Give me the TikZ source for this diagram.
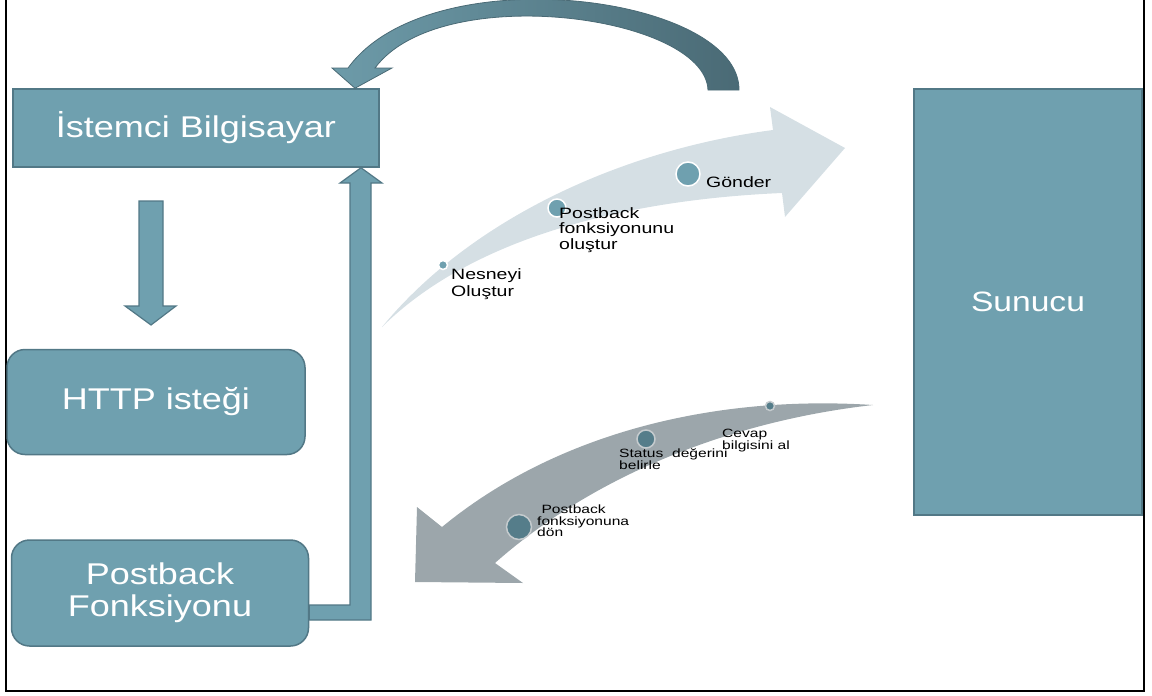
\documentclass[tikz,border=0pt]{standalone}
\usepackage{fontspec}
\newfontfamily\boxfont[FakeStretch=1.2]{Liberation Sans}
\newfontfamily\notefont[FakeStretch=1.3]{Liberation Sans}
\definecolor{boxfill}{HTML}{6FA0AF}
\definecolor{boxline}{HTML}{527886}
\definecolor{darkteal}{HTML}{4A6A75}
\definecolor{midteal}{HTML}{6D9BA9}
\definecolor{paleband}{HTML}{D5DFE4}
\definecolor{greyband}{HTML}{9CA6AB}
\definecolor{dotdark}{HTML}{557D8A}
\definecolor{dotring}{HTML}{C5CBCE}

\begin{document}
\begin{tikzpicture}[x=1pt,y=-1pt]
 \useasboundingbox (0,0) rectangle (1152,696);
 \draw[line width=2pt] (6,0) -- (6,691) -- (1144,691) -- (1144,0);

 \fill[paleband] (382,327) .. controls (470,220) and (620,150) .. (773,130) -- (770,107) -- (845,148) -- (785,217) -- (782,193) .. controls (620,200) and (470,240) .. (382,327) -- cycle;
 \fill[greyband] (873,405) .. controls (720,395) and (560,430) .. (442,527) -- (417,507) -- (415,582) -- (523,583) -- (495,563) .. controls (600,470) and (740,420) .. (873,405) -- cycle;

 \begin{scope}[every node/.style={draw=boxline, fill=boxfill, line width=1.5pt, text=white, inner sep=0pt, align=center}]
   \node (istemci) [minimum width=366pt, minimum height=78pt, font={\boxfont\fontsize{30}{33}\selectfont}] at (196,128) {İstemci Bilgisayar};
   \node (http) [rounded corners=18pt, minimum width=298pt, minimum height=105pt, font={\boxfont\fontsize{30}{33}\selectfont}] at (156,402) {HTTP isteği};
   \node (postback) [rounded corners=18pt, minimum width=297pt, minimum height=106pt, font={\boxfont\fontsize{30}{32}\selectfont}] at (160,593) {Postback\\Fonksiyonu};
   \node (sunucu) [minimum width=228pt, minimum height=426pt, font={\boxfont\fontsize{28}{32}\selectfont}] at (1028,302) {Sunucu};
 \end{scope}

 \draw[boxline, fill=boxfill, line width=1.2pt] (139,201) -- (163,201) -- (163,306) -- (176,306) -- (151,325) -- (125,306) -- (139,306) -- cycle;
 \draw[boxline, fill=boxfill, line width=1.2pt] (postback.east |- 0,605) -- (350,605) -- (350,183) -- (340,183) -- (361,0 |- istemci.south) -- (382,183) -- (371,183) -- (371,620) -- (postback.east |- 0,620) -- cycle;
 \shade[left color=midteal, right color=darkteal, draw=darkteal, line width=0.8pt] (739,90) .. controls (740,-5) and (430,-45) .. (348,68) -- (332,68) -- (355,0 |- istemci.north) -- (392,68) -- (375,68) .. controls (440,-20) and (705,15) .. (708,90) -- cycle;

 \begin{scope}[every node/.style={circle, inner sep=0pt, line width=1.5pt}]
   \node (up1) [fill=boxfill, draw=white, minimum size=9pt] at (443,265) {};
   \node (up2) [fill=boxfill, draw=white, minimum size=18pt] at (557,208) {};
   \node (up3) [fill=boxfill, draw=white, minimum size=24pt] at (688,174) {};
   \node (down1) [fill=dotdark, draw=dotring, minimum size=9pt] at (770,406) {};
   \node (down2) [fill=dotdark, draw=dotring, minimum size=18pt] at (646,439) {};
   \node (down3) [fill=dotdark, draw=dotring, minimum size=25pt] at (519,527) {};
 \end{scope}

 \begin{scope}[every node/.style={inner sep=0pt, align=left, anchor=north west}]
   \node (nesneyi) [font={\notefont\fontsize{15}{17}\selectfont}] at (451,268) {Nesneyi\\Oluştur};
   \node (olustur) [font={\notefont\fontsize{15}{15.5}\selectfont}] at (559,207) {Postback\\fonksiyonunu\\oluştur};
   \node (gonder) [font={\notefont\fontsize{15}{15.5}\selectfont}, anchor=base west] at (706,187) {Gönder};
   \node (cevap) [font={\notefont\fontsize{12}{11}\selectfont}] at (722,429) {Cevap\\bilgisini al};
   \node (status) [font={\notefont\fontsize{12}{11}\selectfont}] at (619,448) {Status\ \ değerini\\belirle};
   \node (don) [font={\notefont\fontsize{12}{11.5}\selectfont}] at (537,505) {\ Postback\\fonksiyonuna\\dön};
 \end{scope}
\end{tikzpicture}
\end{document}
